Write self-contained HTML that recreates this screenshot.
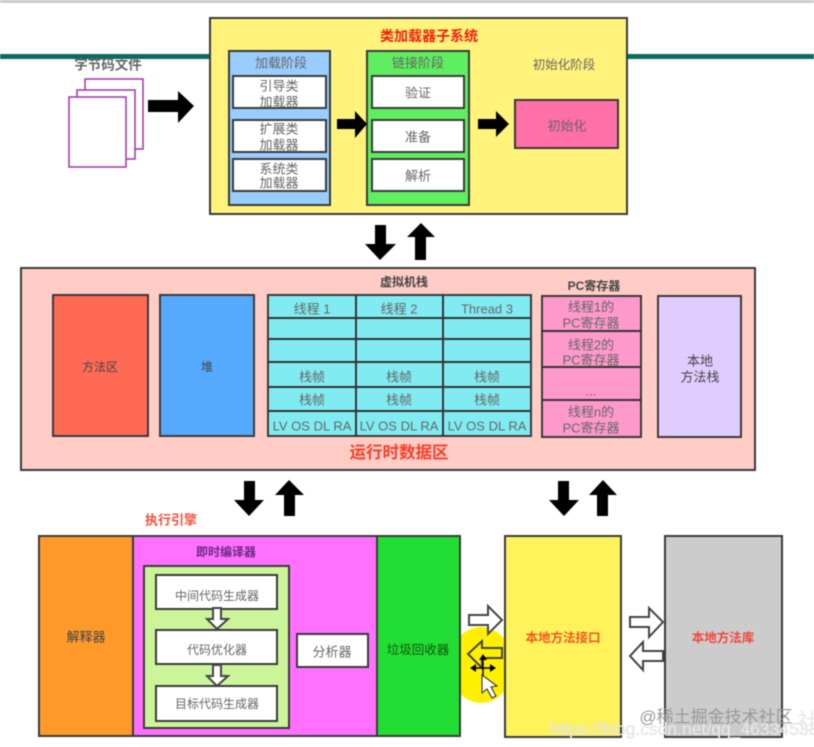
<!DOCTYPE html>
<html>
<head>
<meta charset="utf-8">
<style>
html,body{margin:0;padding:0;background:#fff;width:814px;height:747px;overflow:hidden}
svg{display:block;filter:blur(.6px)}
text{font-family:"Liberation Sans","Noto Sans CJK SC",sans-serif;text-anchor:middle;dominant-baseline:central;fill:#666;font-size:13px}
.b rect,rect.b{stroke:#3a3a3a;stroke-width:2}
.r{fill:#f02010;font-weight:bold}
.d{fill:#444}
.h{fill:#fff;stroke:#444;stroke-width:2}
</style>
</head>
<body>
<svg width="814" height="747" viewBox="0 0 814 747" xmlns="http://www.w3.org/2000/svg">
<rect x="0" y="0" width="814" height="3" fill="#ccc"/>
<rect x="0" y="54" width="814" height="5" fill="#0b6b62"/>

<!-- documents -->
<g fill="#fff" stroke="#a040a8" stroke-width="1.6">
<rect x="85" y="79" width="58" height="70"/>
<rect x="77" y="90" width="58" height="69"/>
<rect x="69" y="97" width="57" height="70"/>
</g>
<text x="108" y="65" style="font-size:13.5px;fill:#666;font-weight:bold">字节码文件</text>
<polygon points="148,100 178,100 178,91 194,106 178,123 178,112 148,112" fill="#000"/>

<!-- class loader -->
<g class="b">
<rect x="210" y="18" width="417" height="196" fill="#fff37c"/>
<rect x="229" y="51" width="101" height="154" fill="#99ccff"/>
<rect x="233" y="76" width="93" height="32" fill="#fff"/>
<rect x="233" y="120" width="93" height="32" fill="#fff"/>
<rect x="233" y="159" width="93" height="32" fill="#fff"/>
<rect x="367" y="51" width="102" height="154" fill="#5fee5f"/>
<rect x="372" y="76" width="92" height="32" fill="#fff"/>
<rect x="372" y="120" width="92" height="32" fill="#fff"/>
<rect x="372" y="159" width="92" height="32" fill="#fff"/>
<rect x="515" y="100" width="103" height="48" fill="#ff6fa8"/>
</g>
<text x="429" y="36" class="r" style="font-size:14px">类加载器子系统</text>
<text x="281" y="63">加载阶段</text>
<text x="279" y="86">引导类</text><text x="279" y="102">加载器</text>
<text x="279" y="129">扩展类</text><text x="279" y="145">加载器</text>
<text x="279" y="169">系统类</text><text x="279" y="183">加载器</text>
<text x="418" y="63">链接阶段</text>
<text x="418" y="93">验证</text>
<text x="418" y="137">准备</text>
<text x="418" y="176">解析</text>
<text x="564" y="65" style="font-size:12.5px">初始化阶段</text>
<text x="567" y="126">初始化</text>
<polygon points="337,119 355,119 355,111 367,124 355,138 355,129 337,129" fill="#000"/>
<polygon points="478,119 496,119 496,111 509,124 496,137 496,129 478,129" fill="#000"/>

<polygon points="375,225 386,225 386,244 396,244 380,260 365,244 375,244" fill="#000"/>
<polygon points="415,260 426,260 426,237 435,237 421,223 407,237 415,237" fill="#000"/>

<!-- runtime data area -->
<g class="b">
<rect x="21" y="268" width="734" height="202" fill="#ffcdc6"/>
<rect x="53" y="295" width="95" height="141" fill="#ff6a55"/>
<rect x="160" y="295" width="94" height="141" fill="#55aaff"/>
<rect x="268" y="295" width="263" height="141" fill="#80ecf2"/>
<rect x="542" y="296" width="99" height="141" fill="#ff99cc"/>
<rect x="658" y="296" width="83" height="141" fill="#e0ccff"/>
</g>
<g stroke="#333" stroke-width="2">
<line x1="356" y1="295" x2="356" y2="436"/>
<line x1="443" y1="295" x2="443" y2="436"/>
<line x1="268" y1="318" x2="531" y2="318"/>
<line x1="268" y1="339" x2="531" y2="339"/>
<line x1="268" y1="362" x2="531" y2="362"/>
<line x1="268" y1="387" x2="531" y2="387"/>
<line x1="268" y1="411" x2="531" y2="411"/>
<line x1="542" y1="331" x2="641" y2="331"/>
<line x1="542" y1="367" x2="641" y2="367"/>
<line x1="542" y1="400" x2="641" y2="400"/>
</g>
<text x="404" y="282" class="d" style="font-size:12px;font-weight:bold">虚拟机栈</text>
<text x="594" y="286" class="d" style="font-size:12px;font-weight:bold">PC寄存器</text>
<text x="100" y="367" class="d" style="font-size:12px">方法区</text>
<text x="207" y="367" class="d" style="font-size:12px">堆</text>
<text x="312" y="309">线程 1</text><text x="399" y="309">线程 2</text><text x="487" y="309">Thread 3</text>
<text x="312" y="377">栈帧</text><text x="399" y="377">栈帧</text><text x="487" y="377">栈帧</text>
<text x="312" y="400">栈帧</text><text x="399" y="400">栈帧</text><text x="487" y="400">栈帧</text>
<text x="312" y="426">LV OS DL RA</text><text x="399" y="426">LV OS DL RA</text><text x="487" y="426">LV OS DL RA</text>
<text x="591" y="307">线程1的</text><text x="591" y="323">PC寄存器</text>
<text x="591" y="345">线程2的</text><text x="591" y="360">PC寄存器</text>
<text x="591" y="391">...</text>
<text x="591" y="412">线程n的</text><text x="591" y="428">PC寄存器</text>
<text x="700" y="361" class="d">本地</text><text x="700" y="377" class="d">方法栈</text>
<text x="399" y="453" class="r" style="font-size:16.5px;fill:#f5402a">运行时数据区</text>

<polygon points="244,481 255,481 255,500 264,500 249,516 234,500 244,500" fill="#000"/>
<polygon points="284,516 295,516 295,495 304,495 289,480 275,495 284,495" fill="#000"/>
<polygon points="558,481 569,481 569,500 579,500 564,516 549,500 558,500" fill="#000"/>
<polygon points="597,516 608,516 608,495 617,495 603,480 589,495 597,495" fill="#000"/>

<!-- cursor highlight -->
<ellipse cx="481" cy="665" rx="32" ry="38" fill="#fff000"/>

<!-- execution engine -->
<text x="171" y="520" class="r" style="font-size:13px;fill:#f5503a">执行引擎</text>
<g class="b">
<rect x="39" y="536" width="94" height="200" fill="#ff9a2a"/>
<rect x="133" y="536" width="244" height="200" fill="#ff70ff"/>
<rect x="377" y="536" width="83" height="200" fill="#22dd33"/>
<rect x="144" y="566" width="145" height="162" fill="#ccf599"/>
<rect x="156" y="575" width="121" height="34" fill="#fff"/>
<rect x="156" y="630" width="121" height="34" fill="#fff"/>
<rect x="156" y="686" width="121" height="35" fill="#fff"/>
<rect x="297" y="634" width="71" height="33" fill="#fff"/>
<rect x="505" y="536" width="116" height="201" fill="#fff25a"/>
<rect x="665" y="536" width="117" height="201" fill="#ccc"/>
</g>
<text x="86" y="637" class="d">解释器</text>
<text x="226" y="552" style="font-size:12px;fill:#6a2a80;font-weight:bold">即时编译器</text>
<text x="217" y="596" style="font-size:12px">中间代码生成器</text>
<text x="217" y="650" style="font-size:12px">代码优化器</text>
<text x="217" y="704" style="font-size:12px">目标代码生成器</text>
<text x="332" y="652">分析器</text>
<text x="418" y="650" style="font-size:12.5px;fill:#115511">垃圾回收器</text>
<text x="563" y="638" class="r" style="font-size:12.5px;fill:#f05a20">本地方法接口</text>
<text x="723" y="638" class="r" style="font-size:12.5px;fill:#f0483c">本地方法库</text>

<polygon class="h" points="213,608 221,608 221,619 228,619 217,629 207,619 213,619"/>
<polygon class="h" points="213,665 221,665 221,676 228,676 217,686 207,676 213,676"/>

<polygon class="h" points="469,615 488,615 488,606 502,620 488,634 488,625 469,625"/>
<polygon points="502,648 482,648 482,641 468,654 482,668 482,658 502,658" fill="none" stroke="#444" stroke-width="2"/>
<polygon class="h" points="630,617 649,617 649,608 663,622 649,637 649,627 630,627"/>
<polygon class="h" points="663,651 643,651 643,642 630,656 643,670 643,661 663,661"/>

<!-- cursor -->
<g stroke="#000" stroke-width="1.4">
<line x1="483" y1="658" x2="483" y2="678"/>
<line x1="473" y1="668" x2="493" y2="668"/>
</g>
<g fill="#000">
<polygon points="483,654 479,660 487,660"/>
<polygon points="470,668 476,664 476,672"/>
<polygon points="496,668 490,664 490,672"/>
</g>
<polygon points="482,675 482,693 487,689 492,698 496,696 491,687 497,686" fill="#fff" stroke="#222" stroke-width="1"/>

<!-- watermarks -->
<text x="716" y="717" style="font-size:17px;fill:#999">@稀土掘金技术社区</text>
<text x="684" y="729" style="font-size:17.5px;fill:#ececec;stroke:#d8d8d8;stroke-width:.3px">https://blog.csdn.net/qq_46334533</text>
<text x="808" y="722" style="font-size:22px;fill:#e8e8e8">社</text>
</svg>
</body>
</html>
